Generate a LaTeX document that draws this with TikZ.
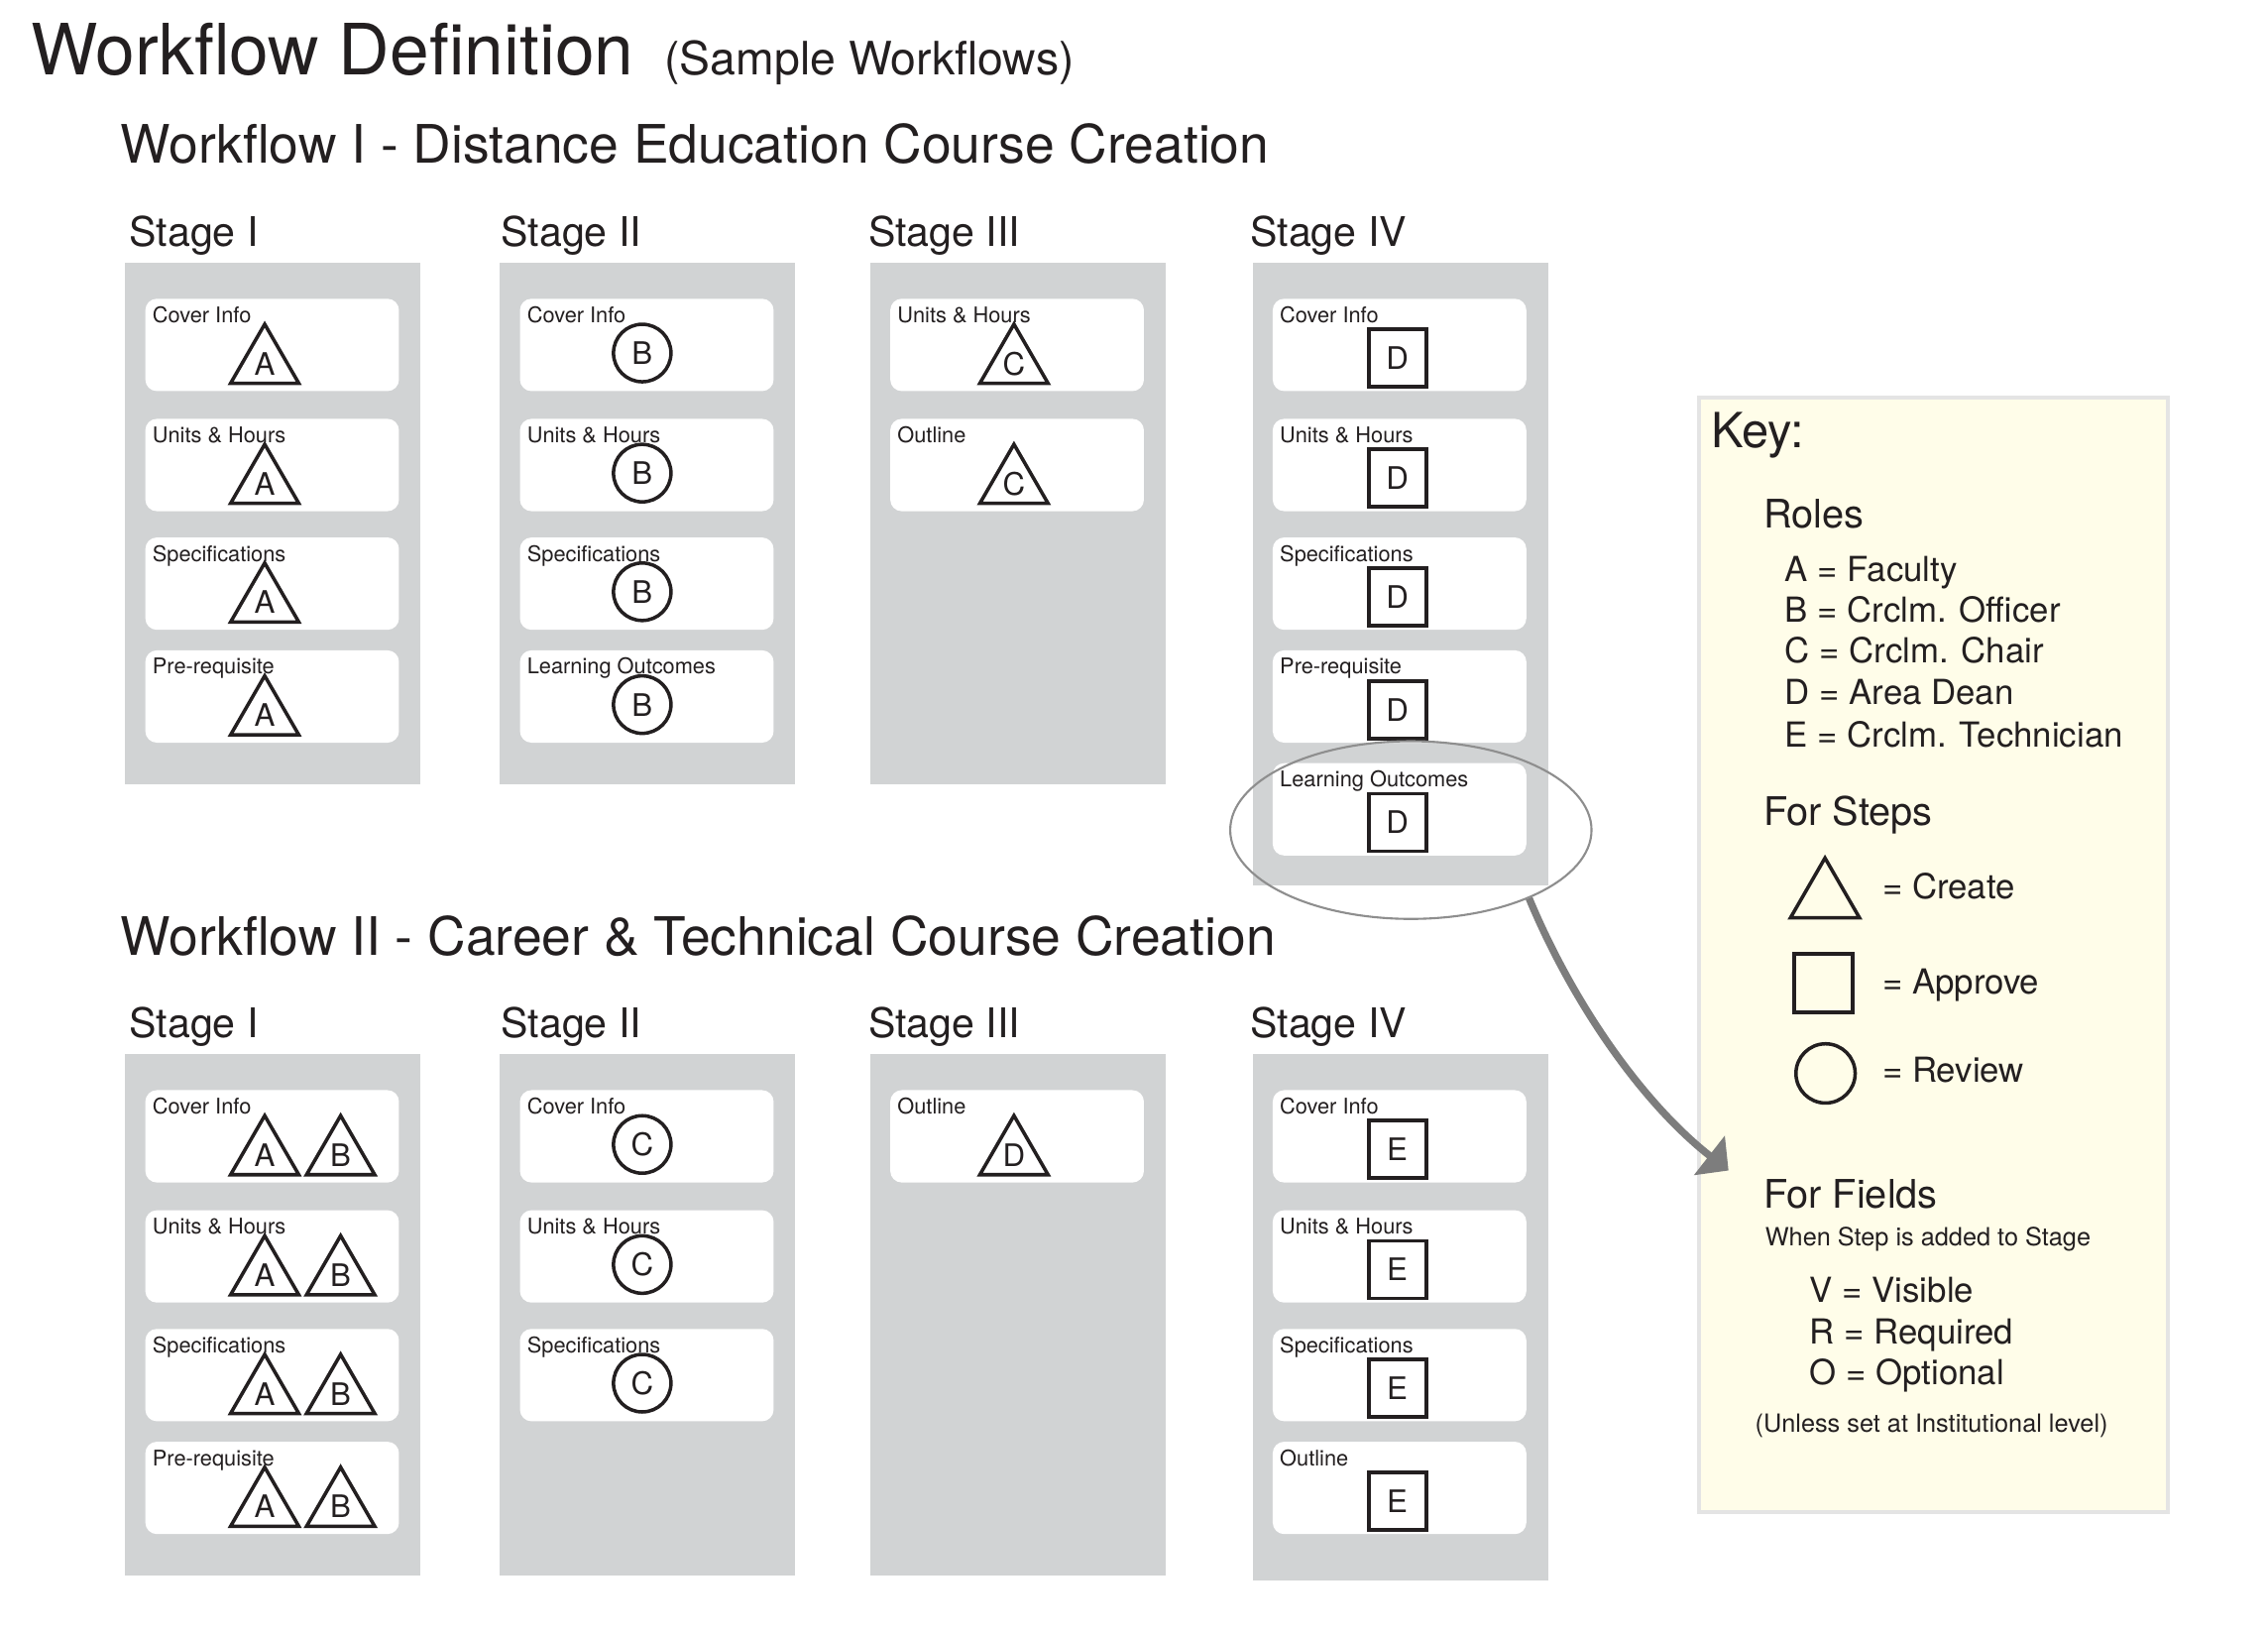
\documentclass[tikz,border=0pt]{standalone}
\usepackage{fontspec}
\setmainfont{TeX Gyre Heros}
\usepackage{xcolor}
\usepackage{tikz}
\usetikzlibrary{arrows.meta, shapes.geometric}

\definecolor{ink}{HTML}{231F20}
\definecolor{colgray}{HTML}{D1D3D4}
\definecolor{keyfill}{HTML}{FFFDE9}
\definecolor{keyline}{HTML}{E4E4E4}
\definecolor{ringgray}{HTML}{8E8E8E}
\definecolor{arrowgray}{HTML}{7D7D7D}

\tikzset{
  txt/.style={text=ink, anchor=base west, inner sep=0},
  stagehead/.style={txt, font=\fontsize{11.7}{14}\selectfont},
  keysec/.style={txt, font=\fontsize{11.3}{14}\selectfont},
  keyline/.style={txt, font=\fontsize{9.9}{12}\selectfont},
  keysmall/.style={txt, font=\fontsize{7.2}{9}\selectfont},
  stagecol/.style={fill=colgray, inner sep=0, anchor=north west, minimum width=84.8pt},
  fieldcard/.style={fill=white, rounded corners=3.3pt, inner sep=0, anchor=north west, minimum width=72.8pt, minimum height=26.5pt},
  fieldname/.style={txt, font=\fontsize{6.2}{7}\selectfont},
  role/.style={text=ink, draw=ink, inner sep=0, font=\fontsize{8.9}{10}\selectfont},
  create/.style={role, line width=1pt, regular polygon, regular polygon sides=3, minimum size=22.6pt},
  approve/.style={role, line width=1.1pt, rectangle, minimum size=16.5pt},
  review/.style={role, line width=1pt, circle, minimum size=16.5pt},
}

\begin{document}
\begin{tikzpicture}[x=0.14592mm, y=-0.14592mm]
\useasboundingbox (0,0) rectangle (1568,1131);

\node[txt, font=\fontsize{20.3}{24}\selectfont] (title) at (21,52) {Workflow Definition};
\node[txt, font=\fontsize{13.2}{16}\selectfont] (sample) at (459,52) {(Sample Workflows)};
\node[txt, font=\fontsize{15.2}{18}\selectfont] (wfone) at (83,113) {Workflow I - Distance Education Course Creation};
\node[txt, font=\fontsize{15.2}{18}\selectfont] (wftwo) at (83,660) {Workflow II - Career \& Technical Course Creation};

\node[stagehead] (de1head) at (89,170) {Stage I};
\node[stagehead] (de2head) at (346,170) {Stage II};
\node[stagehead] (de3head) at (600,170) {Stage III};
\node[stagehead] (de4head) at (864,170) {Stage IV};
\node[stagecol, minimum height=149.7pt] (de1) at (86,181) {};
\node[stagecol, minimum height=149.7pt] (de2) at (345,181) {};
\node[stagecol, minimum height=149.7pt] (de3) at (601,181) {};
\node[stagecol, minimum height=178.7pt] (de4) at (865.4,181) {};

\node[fieldcard] (de1f1) at (100,206) {};
\node[fieldcard] (de1f2) at (100,289) {};
\node[fieldcard] (de1f3) at (100,371) {};
\node[fieldcard] (de1f4) at (100,449) {};
\node[fieldname] at (105,223) {Cover Info};
\node[fieldname] at (105,306) {Units \& Hours};
\node[fieldname] at (105,388) {Specifications};
\node[fieldname] at (105,466) {Pre-requisite};
\node[create] (de1a1) at (183,251.3) {A};
\node[create] (de1a2) at (183,334.3) {A};
\node[create] (de1a3) at (183,416.3) {A};
\node[create] (de1a4) at (183,494.3) {A};

\node[fieldcard] (de2f1) at (359,206) {};
\node[fieldcard] (de2f2) at (359,289) {};
\node[fieldcard] (de2f3) at (359,371) {};
\node[fieldcard] (de2f4) at (359,449) {};
\node[fieldname] at (364,223) {Cover Info};
\node[fieldname] at (364,306) {Units \& Hours};
\node[fieldname] at (364,388) {Specifications};
\node[fieldname] at (364,466) {Learning Outcomes};
\node[review] (de2b1) at (444,244) {B};
\node[review] (de2b2) at (444,327) {B};
\node[review] (de2b3) at (444,409) {B};
\node[review] (de2b4) at (444,487) {B};

\node[fieldcard] (de3f1) at (615,206) {};
\node[fieldcard] (de3f2) at (615,289) {};
\node[fieldname] at (620,223) {Units \& Hours};
\node[fieldname] at (620,306) {Outline};
\node[create] (de3c1) at (701,251.3) {C};
\node[create] (de3c2) at (701,334.3) {C};

\node[fieldcard] (de4f1) at (879.4,206) {};
\node[fieldcard] (de4f2) at (879.4,289) {};
\node[fieldcard] (de4f3) at (879.4,371) {};
\node[fieldcard] (de4f4) at (879.4,449) {};
\node[fieldcard] (de4f5) at (879.4,527) {};
\node[fieldname] at (884.4,223) {Cover Info};
\node[fieldname] at (884.4,306) {Units \& Hours};
\node[fieldname] at (884.4,388) {Specifications};
\node[fieldname] at (884.4,466) {Pre-requisite};
\node[fieldname] at (884.4,544) {Learning Outcomes};
\node[approve] (de4d1) at (966,247.5) {D};
\node[approve] (de4d2) at (966,330.5) {D};
\node[approve] (de4d3) at (966,412.5) {D};
\node[approve] (de4d4) at (966,490.5) {D};
\node[approve] (de4d5) at (966,568.5) {D};

\node[stagehead] (ct1head) at (89,717) {Stage I};
\node[stagehead] (ct2head) at (346,717) {Stage II};
\node[stagehead] (ct3head) at (600,717) {Stage III};
\node[stagehead] (ct4head) at (864,717) {Stage IV};
\node[stagecol, minimum height=149.7pt] (ct1) at (86,728) {};
\node[stagecol, minimum height=149.7pt] (ct2) at (345,728) {};
\node[stagecol, minimum height=149.7pt] (ct3) at (601,728) {};
\node[stagecol, minimum height=151pt] (ct4) at (865.4,728) {};

\node[fieldcard] (ct1f1) at (100,753) {};
\node[fieldcard] (ct1f2) at (100,836) {};
\node[fieldcard] (ct1f3) at (100,918) {};
\node[fieldcard] (ct1f4) at (100,996) {};
\node[fieldname] at (105,770) {Cover Info};
\node[fieldname] at (105,853) {Units \& Hours};
\node[fieldname] at (105,935) {Specifications};
\node[fieldname] at (105,1013) {Pre-requisite};
\node[create] (ct1a1) at (183,798.3) {A};
\node[create] (ct1a2) at (183,881.3) {A};
\node[create] (ct1a3) at (183,963.3) {A};
\node[create] (ct1a4) at (183,1041.3) {A};
\node[create] (ct1b1) at (235.5,798.3) {B};
\node[create] (ct1b2) at (235.5,881.3) {B};
\node[create] (ct1b3) at (235.5,963.3) {B};
\node[create] (ct1b4) at (235.5,1041.3) {B};

\node[fieldcard] (ct2f1) at (359,753) {};
\node[fieldcard] (ct2f2) at (359,836) {};
\node[fieldcard] (ct2f3) at (359,918) {};
\node[fieldname] at (364,770) {Cover Info};
\node[fieldname] at (364,853) {Units \& Hours};
\node[fieldname] at (364,935) {Specifications};
\node[review] (ct2c1) at (444,791) {C};
\node[review] (ct2c2) at (444,874) {C};
\node[review] (ct2c3) at (444,956) {C};

\node[fieldcard] (ct3f1) at (615,753) {};
\node[fieldname] at (620,770) {Outline};
\node[create] (ct3d1) at (701,798.3) {D};

\node[fieldcard] (ct4f1) at (879.4,753) {};
\node[fieldcard] (ct4f2) at (879.4,836) {};
\node[fieldcard] (ct4f3) at (879.4,918) {};
\node[fieldcard] (ct4f4) at (879.4,996) {};
\node[fieldname] at (884.4,770) {Cover Info};
\node[fieldname] at (884.4,853) {Units \& Hours};
\node[fieldname] at (884.4,935) {Specifications};
\node[fieldname] at (884.4,1013) {Outline};
\node[approve] (ct4e1) at (966,794.5) {E};
\node[approve] (ct4e2) at (966,877.5) {E};
\node[approve] (ct4e3) at (966,959.5) {E};
\node[approve] (ct4e4) at (966,1037.5) {E};

\node[draw=keyline, line width=1.15pt, fill=keyfill, inner sep=0, anchor=north west, minimum width=134.6pt, minimum height=319.7pt] (keypanel) at (1173.3,273.6) {};
\node[txt, font=\fontsize{13.9}{16}\selectfont] (keyhead) at (1182.5,309.5) {Key:};
\node[keysec] (roles) at (1218.7,364.7) {Roles};
\node[keyline] at (1233.6,401.7) {A = Faculty};
\node[keyline] at (1233.6,430.3) {B = Crclm. Officer};
\node[keyline] at (1233.6,458.4) {C = Crclm. Chair};
\node[keyline] at (1233.6,487) {D = Area Dean};
\node[keyline] at (1233.6,516.5) {E = Crclm. Technician};
\node[keysec] (steps) at (1218.7,570.6) {For Steps};
\node[create, minimum size=22.9pt] (keycreate) at (1261.7,620.6) {};
\node[approve, minimum size=16.75pt] (keyapprove) at (1260.8,679.6) {};
\node[review, minimum size=17pt] (keyreview) at (1262.1,741.9) {};
\node[keyline] at (1301,621.4) {= Create};
\node[keyline] at (1301,687) {= Approve};
\node[keyline] at (1301,748.3) {= Review};
\node[keysec] (fields) at (1218.7,835) {For Fields};
\node[keysmall] at (1219.9,860.8) {When Step is added to Stage};
\node[keyline] at (1250.7,900) {V = Visible};
\node[keyline] at (1250.7,928.6) {R = Required};
\node[keyline] at (1250.7,957.2) {O = Optional};
\node[keysmall] at (1213,989.6) {(Unless set at Institutional level)};

\node[draw=ringgray, line width=0.6pt, ellipse, inner sep=0, minimum width=103.7pt, minimum height=51pt] (focus) at (975.4,573.7) {};
\coordinate (fieldsin) at (1195,809);
\draw[arrowgray, line width=2.1pt, -{Triangle[length=7pt,width=14pt]}] (focus.-30) .. controls +(30,72) and +(-60,-47) .. (fieldsin);
\end{tikzpicture}
\end{document}
